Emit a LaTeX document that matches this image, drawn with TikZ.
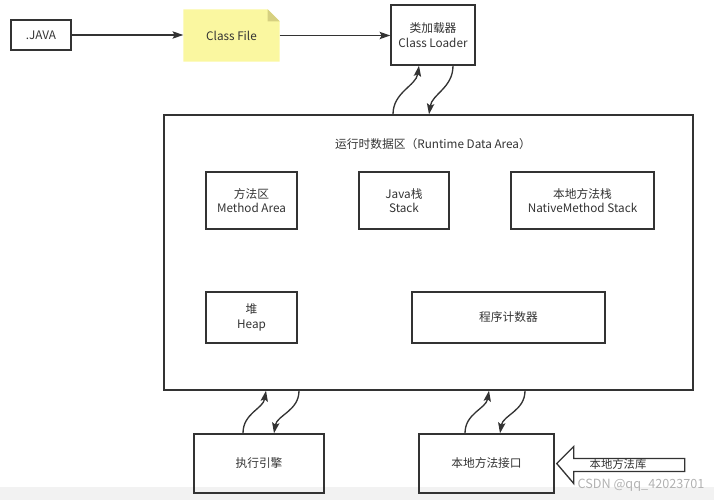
\documentclass[tikz,border=0pt]{standalone}
\usepackage{fontspec}
\setmainfont{Noto Sans CJK SC}
\usepackage{xcolor}
\definecolor{ink}{RGB}{51,51,51}
\definecolor{notefill}{RGB}{250,247,160}
\definecolor{notefold}{RGB}{214,208,128}
\definecolor{barfill}{RGB}{242,242,242}
\usetikzlibrary{arrows.meta}
\usetikzlibrary{backgrounds}
\tikzset{>={Stealth[length=8pt,width=5.5pt,inset=1.5pt]}}
\tikzset{%
    box/.style={%
        draw=ink, line width=1.1pt, text=ink, align=center,
        font=\fontsize{8.8}{11}\selectfont, inner sep=0pt
    },
    flow/.style={->, ink, line width=1pt}
}

\begin{document}
\begin{tikzpicture}[x=0.75pt,y=-0.75pt]
    \useasboundingbox (0,0) rectangle (714,500);
    \fill[barfill] (0,487) rectangle (714,500);
    \node[box,minimum width=45pt,minimum height=22.5pt] (java) at (41,35) {.JAVA};
    \node[box,draw=none,minimum width=71.25pt,minimum height=38.25pt] (cls) at (231.5,35.5) {Class File};
    \node[box,minimum width=63pt,minimum height=45pt] (loader) at (433,35) {类加载器\\Class Loader};
    \begin{scope}[on background layer]
        \fill[notefill] (cls.north west) -- ([xshift=-9pt]cls.north east)
            -- ([yshift=-9pt]cls.north east) -- (cls.south east) -- (cls.south west) -- cycle;
        \fill[notefold] ([xshift=-9pt]cls.north east) -- ([xshift=-9pt,yshift=-9pt]cls.north east)
            -- ([yshift=-9pt]cls.north east) -- cycle;
    \end{scope}
    \draw[flow] (java.east) -- (java.east -| cls.west);
    \draw[flow] (cls.east) -- (cls.east -| loader.west);

    \node[box,minimum width=396.75pt,minimum height=206.25pt] (rda) at (428.5,252.5) {};
    \node[text=ink,font=\fontsize{8.8}{11}\selectfont] (rdatitle) at (433,144) {运行时数据区（Runtime Data Area）};
    \node[box,minimum width=68.25pt,minimum height=42.75pt] (method) at (251.5,200.5) {方法区\\Method Area};
    \node[box,minimum width=67.5pt,minimum height=42.75pt] (stack) at (404,200.5) {Java栈\\Stack};
    \node[box,minimum width=107.25pt,minimum height=42.75pt] (nstack) at (582.5,200.5) {本地方法栈\\NativeMethod Stack};
    \node[box,minimum width=68.25pt,minimum height=38.25pt] (heap) at (251.5,317.5) {堆\\Heap};
    \node[box,minimum width=144.75pt,minimum height=38.25pt] (pc) at (508.5,317.5) {程序计数器};

    \node[box,minimum width=97.5pt,minimum height=44.25pt] (engine) at (259,463.5) {执行引擎};
    \node[box,minimum width=101.25pt,minimum height=44.25pt] (native) at (486.5,463.5) {本地方法接口};

    \draw[flow] (rda.north -| 393,0) .. controls +(0,-22) and +(-3,20) .. (loader.south -| 419,0);
    \draw[flow] (loader.south -| 453,0) .. controls +(0,22) and +(3,-20) .. (rda.north -| 429,0);
    \draw[flow] (engine.north -| 243,0) .. controls +(0,-20) and +(-3,18) .. (rda.south -| 266,0);
    \draw[flow] (rda.south -| 299,0) .. controls +(0,20) and +(3,-18) .. (engine.north -| 274,0);
    \draw[flow] (native.north -| 465,0) .. controls +(0,-20) and +(-3,18) .. (rda.south -| 489,0);
    \draw[flow] (rda.south -| 525,0) .. controls +(0,20) and +(3,-18) .. (native.north -| 500,0);

    \coordinate (libtip) at ([xshift=1.5pt]native.east);
    \draw[ink,line width=1pt,line join=miter] (libtip) -- ++(17,-17) -- ++(0,12) -- ++(111,0)
        -- ++(0,13) -- ++(-111,0) -- ++(0,12) -- cycle;
    \node[text=ink,font=\fontsize{8.5}{10}\selectfont,inner sep=0pt] (lib) at (618,464) {本地方法库};
    \node[text=black!30,font=\fontsize{9.5}{11}\selectfont,inner sep=0pt] (mark) at (641,485) {CSDN @qq\_42023701};
\end{tikzpicture}
\end{document}
